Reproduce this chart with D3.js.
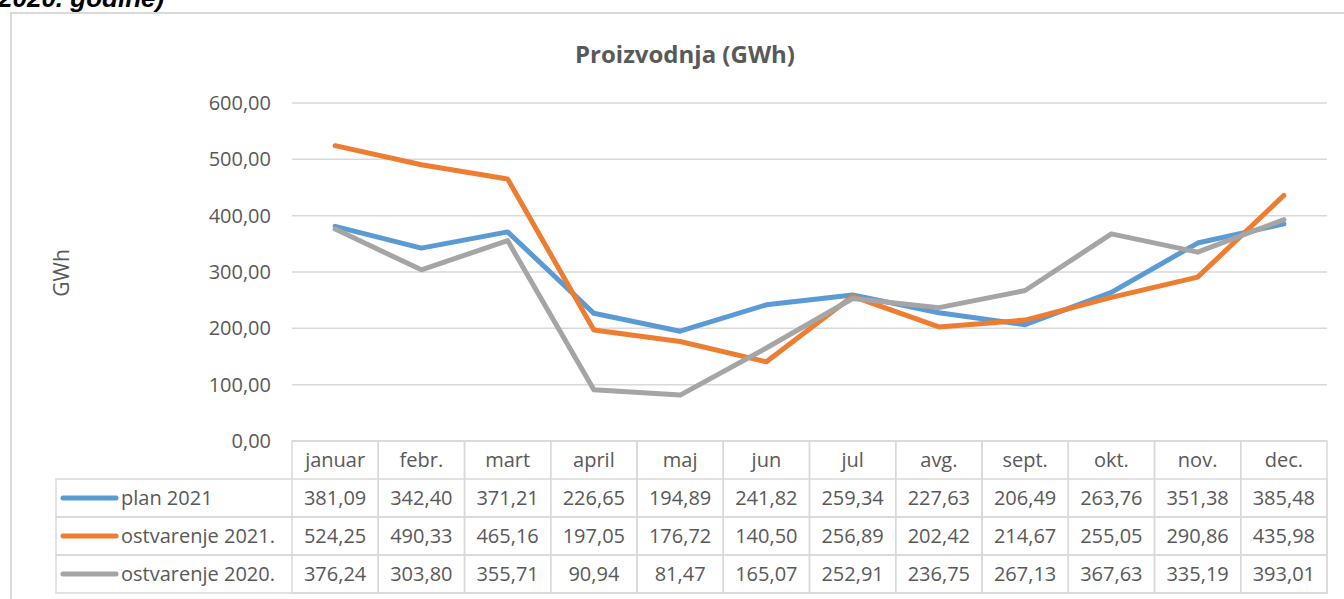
<!DOCTYPE html>
<html>
<head>
<meta charset="utf-8">
<script src="https://cdn.jsdelivr.net/npm/d3@7"></script>
<style>
  html, body { margin: 0; padding: 0; background: #fff; overflow: hidden; }
  svg { display: block; font-family: "Open Sans", sans-serif; }
  .grid { stroke: #d9d9d9; stroke-width: 1.5; }
  .cell { stroke: #d9d9d9; stroke-width: 1.5; fill: none; }
  .lbl { fill: #595959; }
</style>
</head>
<body>
<svg class="main" width="1344" height="599"></svg>
<script>
var months = ["januar", "febr.", "mart", "april", "maj", "jun", "jul", "avg.", "sept.", "okt.", "nov.", "dec."];
var seriesNames = ["plan 2021", "ostvarenje 2021.", "ostvarenje 2020."];
var seriesColors = ["#5b9bd5", "#ed7d31", "#a5a5a5"];
var plan2021 = [381.09, 342.40, 371.21, 226.65, 194.89, 241.82, 259.34, 227.63, 206.49, 263.76, 351.38, 385.48];
var ostv2021 = [524.25, 490.33, 465.16, 197.05, 176.72, 140.50, 256.89, 202.42, 214.67, 255.05, 290.86, 435.98];
var ostv2020 = [376.24, 303.80, 355.71, 90.94, 81.47, 165.07, 252.91, 236.75, 267.13, 367.63, 335.19, 393.01];
var yTicks = [0, 100, 200, 300, 400, 500, 600];

var seriesValues = [plan2021, ostv2021, ostv2020];

var svg = d3.select("svg.main");

var plotLeft = 292, plotRight = 1327, plotTop = 103, plotBottom = 441;
var rowh = 38;
var tableLeft = 56;

function fmt(v) { return v.toFixed(2).replace(".", ","); }

// heading text cut off at top of page
svg.append("text")
    .attr("x", -2)
    .attr("y", 7)
    .attr("font-family", "Liberation Sans, Arial, sans-serif")
    .attr("font-weight", "bold")
    .attr("font-style", "italic")
    .attr("font-size", 26)
    .attr("fill", "#000")
    .text("2020. godine)");

// chart frame
svg.append("rect")
    .attr("x", 11).attr("y", 13)
    .attr("width", 1400).attr("height", 700)
    .attr("fill", "none")
    .attr("stroke", "#d9d9d9")
    .attr("stroke-width", 2);

svg.append("text")
    .attr("class", "lbl")
    .attr("x", 685).attr("y", 63)
    .attr("text-anchor", "middle")
    .attr("font-weight", "bold")
    .attr("font-size", 24)
    .text("Proizvodnja (GWh)");

var x = d3.scaleBand().domain(months).range([plotLeft, plotRight]);
var y = d3.scaleLinear().domain([0, 600]).range([plotBottom, plotTop]);

// gridlines
svg.selectAll("line.grid").data(yTicks).enter().append("line")
    .attr("class", "grid")
    .attr("x1", plotLeft).attr("x2", plotRight)
    .attr("y1", d => y(d)).attr("y2", d => y(d));

svg.selectAll("text.ytick").data(yTicks).enter().append("text")
    .attr("class", "lbl ytick")
    .attr("x", 271)
    .attr("y", d => y(d))
    .attr("dy", "0.35em")
    .attr("text-anchor", "end")
    .attr("font-size", 20)
    .text(d => fmt(d));

svg.append("text")
    .attr("class", "lbl")
    .attr("transform", "translate(69,273) rotate(-90)")
    .attr("text-anchor", "middle")
    .attr("font-size", 21)
    .text("GWh");

// lines
var line = d3.line()
    .x((d, i) => x(months[i]) + x.bandwidth() / 2)
    .y(d => y(d));

seriesValues.forEach(function (vals, s) {
    svg.append("path")
        .attr("d", line(vals))
        .attr("fill", "none")
        .attr("stroke", seriesColors[s])
        .attr("stroke-width", 5)
        .attr("stroke-linejoin", "round")
        .attr("stroke-linecap", "round");
});

// data table
var tableBottom = plotBottom + rowh * 4;

months.forEach(function (m) {
    svg.append("rect")
        .attr("class", "cell")
        .attr("x", x(m)).attr("y", plotBottom)
        .attr("width", x.bandwidth()).attr("height", tableBottom - plotBottom);
    svg.append("text")
        .attr("class", "lbl")
        .attr("x", x(m) + x.bandwidth() / 2)
        .attr("y", plotBottom + rowh / 2)
        .attr("dy", "0.35em")
        .attr("text-anchor", "middle")
        .attr("font-size", 20)
        .text(m);
});

seriesNames.forEach(function (name, s) {
    var ry = plotBottom + rowh * (s + 1);
    svg.append("rect")
        .attr("class", "cell")
        .attr("x", tableLeft).attr("y", ry)
        .attr("width", plotRight - tableLeft).attr("height", rowh);
    svg.append("line")
        .attr("x1", 63).attr("x2", 116)
        .attr("y1", ry + rowh / 2).attr("y2", ry + rowh / 2)
        .attr("stroke", seriesColors[s])
        .attr("stroke-width", 5)
        .attr("stroke-linecap", "round");
    svg.append("text")
        .attr("class", "lbl")
        .attr("x", 121)
        .attr("y", ry + rowh / 2)
        .attr("dy", "0.35em")
        .attr("font-size", 20)
        .text(name);
    seriesValues[s].forEach(function (v, i) {
        svg.append("text")
            .attr("class", "lbl")
            .attr("x", x(months[i]) + x.bandwidth() / 2)
            .attr("y", ry + rowh / 2)
            .attr("dy", "0.35em")
            .attr("text-anchor", "middle")
            .attr("font-size", 20)
            .text(fmt(v));
    });
});
</script>
</body>
</html>
